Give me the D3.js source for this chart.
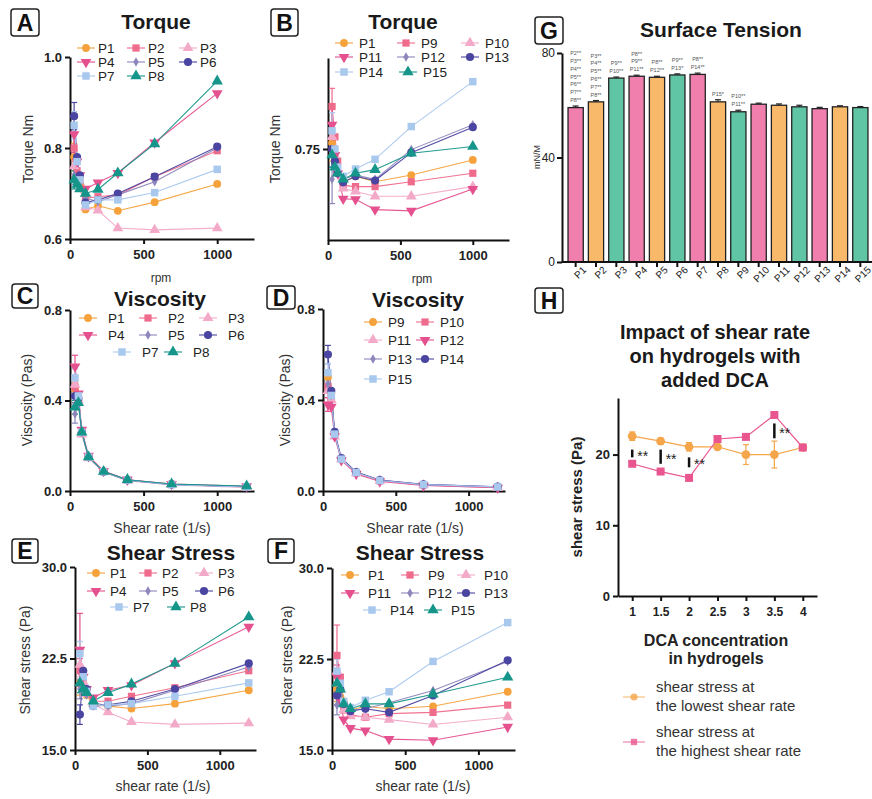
<!DOCTYPE html>
<html>
<head>
<meta charset="utf-8">
<script src="https://cdn.jsdelivr.net/npm/d3@7"></script>
<style>
body { margin: 0; background: #fff; }
svg { font-family: "Liberation Sans", Arial, Helvetica, sans-serif; }
</style>
</head>
<body>
<svg id="fig" width="872" height="799"></svg>
<script>
// ---------------------------------------------------------------- data
var rpm = [28, 48, 67, 105, 190, 325, 575, 1000];
var shearRate = [34, 57, 80, 126, 228, 390, 690, 1200];

var namesA = ["P1", "P2", "P3", "P4", "P5", "P6", "P7", "P8"];
var namesB = ["P1", "P9", "P10", "P11", "P12", "P13", "P14", "P15"];
var namesD = ["P9", "P10", "P11", "P12", "P13", "P14", "P15"];

// torque (Nm) vs rpm
var torqueA = [
   [0.78, 0.74, 0.72, 0.665, 0.673, 0.662, 0.681, 0.721],
   [0.80, 0.75, 0.73, 0.69, 0.693, 0.697, 0.737, 0.794],
   [0.76, 0.73, 0.71, 0.67, 0.663, 0.624, 0.620, 0.624],
   [0.83, 0.77, 0.74, 0.71, 0.724, 0.745, 0.812, 0.920],
   [0.74, 0.73, 0.72, 0.69, 0.682, 0.697, 0.726, 0.800],
   [0.87, 0.78, 0.74, 0.68, 0.686, 0.700, 0.737, 0.803],
   [0.85, 0.77, 0.73, 0.675, 0.686, 0.686, 0.702, 0.753],
   [0.73, 0.72, 0.71, 0.70, 0.709, 0.745, 0.809, 0.947]
];
var torqueAErr = [0.03, 0.03, 0.02, 0.04, 0.02, 0.03, 0.03, 0.02];

var torqueB = [
   [0.76, 0.73, 0.71, 0.695, 0.705, 0.696, 0.707, 0.732],
   [0.82, 0.77, 0.73, 0.69, 0.688, 0.688, 0.696, 0.710],
   [0.77, 0.74, 0.71, 0.685, 0.680, 0.672, 0.672, 0.688],
   [0.79, 0.74, 0.71, 0.668, 0.667, 0.650, 0.648, 0.684],
   [0.70, 0.72, 0.71, 0.70, 0.707, 0.700, 0.749, 0.790],
   [0.75, 0.73, 0.71, 0.695, 0.705, 0.698, 0.744, 0.786],
   [0.78, 0.75, 0.72, 0.705, 0.717, 0.733, 0.787, 0.861],
   [0.74, 0.72, 0.71, 0.70, 0.710, 0.716, 0.743, 0.754]
];
var torqueBErr = [0.03, 0.03, 0.02, 0.03, 0.04, 0.03, 0.03, 0.02];

// viscosity (Pas) vs shear rate
var viscC = [
   [0.45, 0.40, 0.26, 0.15, 0.085, 0.048, 0.029, 0.018],
   [0.46, 0.41, 0.26, 0.15, 0.087, 0.049, 0.030, 0.019],
   [0.47, 0.40, 0.25, 0.145, 0.084, 0.046, 0.027, 0.016],
   [0.55, 0.43, 0.27, 0.155, 0.088, 0.050, 0.031, 0.021],
   [0.34, 0.38, 0.26, 0.15, 0.085, 0.048, 0.029, 0.019],
   [0.42, 0.41, 0.26, 0.15, 0.085, 0.048, 0.029, 0.019],
   [0.50, 0.42, 0.26, 0.15, 0.085, 0.048, 0.028, 0.018],
   [0.37, 0.39, 0.26, 0.15, 0.086, 0.050, 0.031, 0.022]
];
var viscCErr = [0.03, 0.04, 0.03, 0.05, 0.04, 0.03, 0.04, 0.03];

var viscD = [
   [0.50, 0.43, 0.25, 0.14, 0.080, 0.046, 0.027, 0.017],
   [0.46, 0.41, 0.25, 0.14, 0.080, 0.045, 0.027, 0.016],
   [0.44, 0.40, 0.24, 0.14, 0.078, 0.045, 0.026, 0.015],
   [0.38, 0.37, 0.24, 0.135, 0.075, 0.042, 0.024, 0.014],
   [0.47, 0.42, 0.25, 0.14, 0.082, 0.047, 0.028, 0.018],
   [0.60, 0.44, 0.26, 0.145, 0.083, 0.048, 0.029, 0.019],
   [0.52, 0.42, 0.25, 0.14, 0.081, 0.046, 0.028, 0.018]
];
var viscDErr = [0.03, 0.03, 0.03, 0.03, 0.03, 0.04, 0.04];

// shear stress (Pa) vs shear rate
var stressE = [
   [20.5, 20.2, 19.5, 18.7, 18.6, 18.4, 18.8, 19.9],
   [21.5, 20.5, 19.8, 19.0, 19.0, 19.4, 20.1, 21.5],
   [22.0, 20.6, 19.6, 18.8, 18.1, 17.3, 17.1, 17.2],
   [23.2, 21.0, 20.0, 19.3, 19.9, 20.3, 22.1, 25.1],
   [20.0, 19.8, 19.5, 18.9, 18.6, 18.8, 19.9, 21.8],
   [17.9, 21.5, 20.0, 18.6, 18.7, 19.0, 20.0, 22.1],
   [22.9, 21.0, 19.8, 18.6, 18.7, 18.8, 19.4, 20.5],
   [20.5, 20.0, 19.7, 19.0, 19.7, 20.4, 22.1, 25.9]
];
var stressEErr = [1.0, 1.0, 1.0, 3.0, 0.8, 0.8, 1.0, 0.8];

var stressF = [
   [20.0, 19.4, 19.0, 18.3, 18.6, 18.4, 18.6, 19.8],
   [22.8, 21.0, 18.3, 17.9, 17.7, 18.0, 18.1, 18.7],
   [21.5, 20.0, 18.3, 17.8, 17.7, 17.5, 17.1, 17.7],
   [21.0, 19.0, 17.5, 16.8, 16.6, 15.9, 15.8, 16.9],
   [18.7, 19.5, 18.8, 18.3, 18.4, 18.9, 19.9, 22.3],
   [19.5, 20.0, 18.8, 18.2, 18.4, 18.1, 19.5, 22.4],
   [21.5, 20.5, 19.0, 18.5, 19.1, 19.8, 22.3, 25.5],
   [20.5, 20.0, 18.8, 18.4, 18.8, 18.8, 19.6, 21.0]
];
var stressFErr = [1.0, 2.5, 1.0, 1.0, 0.8, 0.8, 1.0, 0.8];

// surface tension (mN/M)
var stNames = ["P1", "P2", "P3", "P4", "P5", "P6", "P7", "P8", "P9", "P10", "P11", "P12", "P13", "P14", "P15"];
var stValues = [59.1, 61.3, 70.4, 71.1, 70.7, 71.6, 71.8, 61.3, 57.5, 60.4, 60.0, 59.4, 58.7, 59.4, 59.1];
var stErr = [0.6, 0.5, 0.4, 0.4, 0.4, 0.4, 0.5, 0.8, 0.6, 0.4, 0.5, 0.6, 0.5, 0.4, 0.4];
var stSig = [
   ["P2**", "P3**", "P4**", "P5**", "P6**", "P7**", "P8**"],
   ["P3**", "P4**", "P5**", "P6**", "P7**", "P8**"],
   ["P9**", "P10**"],
   ["P8**", "P9**", "P11**"],
   ["P8**", "P12**"],
   ["P9**", "P13*"],
   ["P8**", "P14**"],
   ["P15*"],
   ["P10**", "P11**"],
   [], [], [], [], [], []
];

// DCA panel
var dcaConc = [1, 1.5, 2, 2.5, 3, 3.5, 4];
var dcaLowest = [22.6, 21.9, 21.1, 21.1, 20.0, 20.0, 21.0];
var dcaLowestErr = [0.6, 0.4, 0.6, 0.3, 1.4, 1.9, 0.3];
var dcaHighest = [18.7, 17.6, 16.7, 22.2, 22.5, 25.6, 21.0];
var dcaHighestErr = [0.3, 0.3, 0.3, 0.3, 0.3, 0.4, 0.3];
var dcaSigX = [1, 1.5, 2, 3.5];
var dcaSigLo = [19.6, 18.7, 18.2, 22.3];
var dcaSigHi = [20.7, 20.7, 19.6, 24.4];

// ---------------------------------------------------------------- styles
var styles = [
   {color: "#f5a23c", shape: d3.symbolCircle, size: 48},
   {color: "#ef6b8c", shape: d3.symbolSquare, size: 52},
   {color: "#f3a9c8", shape: d3.symbolTriangle, size: 50},
   {color: "#e5508e", shape: d3.symbolTriangle, size: 50, rot: 180},
   {color: "#8d86bb", shape: d3.symbolDiamond, size: 26},
   {color: "#4a45a0", shape: d3.symbolCircle, size: 52},
   {color: "#a9c8ee", shape: d3.symbolSquare, size: 56},
   {color: "#16968a", shape: d3.symbolTriangle, size: 56}
];
var barColors = ["#f07fae", "#f9b96b", "#5fc5a5"];

var svg = d3.select("#fig");

function marker(sel, st) {
   return sel.append("path")
      .attr("d", d3.symbol().type(st.shape).size(st.size))
      .attr("fill", st.color);
}

function styleAxis(ax, fs, bold) {
   ax.select(".domain").attr("stroke", "#111").attr("stroke-width", 2);
   ax.selectAll(".tick line").attr("stroke", "#111").attr("stroke-width", 2);
   ax.selectAll(".tick text").attr("fill", "#222")
      .style("font-size", fs + "px").style("font-weight", bold ? "bold" : "normal")
      .style("font-family", "'Liberation Sans', Arial, sans-serif");
}

function panelLabel(letter, bx, by, bw, bh) {
   svg.append("rect").attr("x", bx).attr("y", by).attr("width", bw).attr("height", bh)
      .attr("rx", 3).attr("fill", "none").attr("stroke", "#222").attr("stroke-width", 1.5);
   svg.append("text").attr("x", bx + bw / 2).attr("y", by + bh / 2).attr("dy", "0.36em")
      .attr("text-anchor", "middle").style("font-size", "23px").style("font-weight", "bold")
      .attr("fill", "#111").text(letter);
}

function title(txt, cx, by, fs) {
   svg.append("text").attr("x", cx).attr("y", by).attr("text-anchor", "middle")
      .style("font-size", (fs || 21) + "px").style("font-weight", "bold").attr("fill", "#1a1a1a").text(txt);
}

// ---------------------------------------------------------------- line panels A-F
function linePanel(p) {
   var x = d3.scaleLinear().domain([0, 1250]).range(p.xRange);
   var y = d3.scaleLinear().domain(p.yDomain).range(p.yRange);
   var g = svg.append("g");

   var ax = g.append("g").attr("transform", "translate(0," + p.yRange[0] + ")")
      .call(d3.axisBottom(x).tickValues([0, 500, 1000]).tickFormat(d3.format("d"))
         .tickSize(5).tickSizeOuter(0).tickPadding(6));
   styleAxis(ax, 13, true);
   var ay = g.append("g").attr("transform", "translate(" + p.xRange[0] + ",0)")
      .call(d3.axisLeft(y).tickValues(p.yTicks).tickFormat(d3.format(p.yFormat)).tickSize(5).tickSizeOuter(0).tickPadding(3));
   styleAxis(ay, 13, true);

   // axis titles
   g.append("text").attr("transform", "translate(" + p.yTitle[0] + "," + p.yTitle[1] + ") rotate(-90)")
      .attr("text-anchor", "middle").attr("dy", "0.35em").style("font-size", "14px").attr("fill", "#333").text(p.yLabel);
   g.append("text").attr("x", p.xTitle[0]).attr("y", p.xTitle[1]).attr("text-anchor", "middle")
      .style("font-size", p.xTitleSize + "px").attr("fill", "#333").text(p.xLabel);

   var line = d3.line().x(function(d) { return x(d[0]); }).y(function(d) { return y(d[1]); });

   p.series.forEach(function(vals, i) {
      var st = styles[p.styleIdx[i]];
      var pts = vals.map(function(v, k) { return [p.xs[k], v]; });
      g.append("path").datum(pts).attr("d", line).attr("fill", "none")
         .attr("stroke", st.color).attr("stroke-width", 1.1).attr("opacity", 0.95);
      // error bar on first point
      var e = p.err[i], x0 = x(pts[0][0]);
      g.append("line").attr("x1", x0).attr("x2", x0)
         .attr("y1", y(pts[0][1] - e)).attr("y2", y(pts[0][1] + e))
         .attr("stroke", st.color).attr("stroke-width", 1.2);
      [pts[0][1] - e, pts[0][1] + e].forEach(function(v) {
         g.append("line").attr("x1", x0 - 3).attr("x2", x0 + 3).attr("y1", y(v)).attr("y2", y(v))
            .attr("stroke", st.color).attr("stroke-width", 1.2);
      });
   });
   p.series.forEach(function(vals, i) {
      var st = styles[p.styleIdx[i]];
      vals.forEach(function(v, k) {
         marker(g, st).attr("transform", "translate(" + x(p.xs[k]) + "," + y(v) + ")" + (st.rot ? " rotate(180)" : ""));
      });
   });

   // legend
   var L = p.legend;
   var nRows = Math.ceil(p.names.length / L.ncol);
   p.names.forEach(function(n, i) {
      var row = Math.floor(i / L.ncol), col = i % L.ncol;
      var st = styles[p.styleIdx[i]];
      var mx = (row === nRows - 1 && L.last) ? L.last[col] : L.cols[col];
      var my = L.rows[row];
      g.append("line").attr("x1", mx - 9).attr("x2", mx + 9).attr("y1", my).attr("y2", my)
         .attr("stroke", st.color).attr("stroke-width", 1.1);
      marker(g, st).attr("transform", "translate(" + mx + "," + my + ")" + (st.rot ? " rotate(180)" : ""));
      g.append("text").attr("x", mx + L.dx).attr("y", my).attr("dy", "0.36em")
         .style("font-size", "13.5px").attr("fill", "#222").text(n);
   });
}

var idx8 = [0, 1, 2, 3, 4, 5, 6, 7];

linePanel({
   xs: rpm, series: torqueA, err: torqueAErr, names: namesA, styleIdx: idx8,
   xRange: [70, 254], yDomain: [0.6, 1.0], yRange: [239, 57], yTicks: [0.6, 0.8, 1.0], yFormat: ".1f",
   yLabel: "Torque Nm", yTitle: [28, 149], xLabel: "rpm", xTitle: [161, 282], xTitleSize: 12,
   legend: {ncol: 3, cols: [86, 136, 188], last: [86, 136], rows: [48, 62, 76], dx: 12}
});
linePanel({
   xs: rpm, series: torqueB, err: torqueBErr, names: namesB, styleIdx: idx8,
   xRange: [328, 509], yDomain: [0.6, 0.9], yRange: [240, 58], yTicks: [0.75], yFormat: ".2f",
   yLabel: "Torque Nm", yTitle: [275, 149], xLabel: "rpm", xTitle: [422, 283], xTitleSize: 12,
   legend: {ncol: 3, cols: [344, 406, 470], last: [344, 408], rows: [43, 57, 72], dx: 15}
});
linePanel({
   xs: shearRate, series: viscC, err: viscCErr, names: namesA, styleIdx: idx8,
   xRange: [70, 254], yDomain: [0, 0.8], yRange: [491, 310], yTicks: [0, 0.4, 0.8], yFormat: ".1f",
   yLabel: "Viscosity (Pas)", yTitle: [27, 400], xLabel: "Shear rate (1/s)", xTitle: [162, 533], xTitleSize: 14,
   legend: {ncol: 3, cols: [88, 148, 208], last: [122, 173], rows: [318, 335, 352], dx: 20}
});
linePanel({
   xs: shearRate, series: viscD, err: viscDErr, names: namesD, styleIdx: [0, 1, 2, 3, 4, 5, 6],
   xRange: [323, 505], yDomain: [0, 0.8], yRange: [491, 309], yTicks: [0, 0.4, 0.8], yFormat: ".1f",
   yLabel: "Viscosity (Pas)", yTitle: [285, 400], xLabel: "Shear rate (1/s)", xTitle: [415, 533], xTitleSize: 14,
   legend: {ncol: 2, cols: [373, 425], rows: [322, 340, 359, 379], dx: 15}
});
linePanel({
   xs: shearRate, series: stressE, err: stressEErr, names: namesA, styleIdx: idx8,
   xRange: [75, 256], yDomain: [15, 30], yRange: [750, 567], yTicks: [15, 22.5, 30], yFormat: ".1f",
   yLabel: "Shear stress (Pa)", yTitle: [25, 660], xLabel: "shear rate (1/s)", xTitle: [163, 791], xTitleSize: 14,
   legend: {ncol: 3, cols: [96, 148, 204], last: [119, 176], rows: [573, 591, 607], dx: 14}
});
linePanel({
   xs: shearRate, series: stressF, err: stressFErr, names: namesB, styleIdx: idx8,
   xRange: [332, 515], yDomain: [15, 30], yRange: [750, 568], yTicks: [15, 22.5, 30], yFormat: ".1f",
   yLabel: "Shear stress (Pa)", yTitle: [287, 660], xLabel: "shear rate (1/s)", xTitle: [423, 791], xTitleSize: 14,
   legend: {ncol: 3, cols: [350, 410, 466], last: [372, 433], rows: [575, 593, 610], dx: 18}
});

title("Torque", 156, 29); panelLabel("A", 11, 9, 28, 27);
title("Torque", 403, 29); panelLabel("B", 271, 9, 27, 27);
title("Viscosity", 160, 306); panelLabel("C", 12, 284, 26, 24);
title("Viscosity", 418, 307); panelLabel("D", 267, 286, 28, 23);
title("Shear Stress", 171, 560); panelLabel("E", 12, 539, 26, 24);
title("Shear Stress", 420, 560); panelLabel("F", 268, 539, 26, 24);

// ---------------------------------------------------------------- G surface tension
(function() {
   var x = d3.scaleBand().domain(stNames).range([566, 870]).paddingInner(0.25).paddingOuter(0.1);
   var y = d3.scaleLinear().domain([0, 80]).range([262, 53]);
   var g = svg.append("g");

   g.selectAll("rect.bar").data(stValues).enter().append("rect")
      .attr("x", function(d, i) { return x(stNames[i]); })
      .attr("y", function(d) { return y(d); })
      .attr("width", x.bandwidth())
      .attr("height", function(d) { return y(0) - y(d); })
      .attr("fill", function(d, i) { return barColors[i % 3]; })
      .attr("stroke", "#222").attr("stroke-width", 1.3);

   stValues.forEach(function(v, i) {
      var cx = x(stNames[i]) + x.bandwidth() / 2;
      g.append("line").attr("x1", cx).attr("x2", cx).attr("y1", y(v)).attr("y2", y(v + stErr[i]))
         .attr("stroke", "#222").attr("stroke-width", 1.2);
      g.append("line").attr("x1", cx - 3).attr("x2", cx + 3).attr("y1", y(v + stErr[i])).attr("y2", y(v + stErr[i]))
         .attr("stroke", "#222").attr("stroke-width", 1.2);
      var lines = stSig[i];
      lines.forEach(function(t, k) {
         g.append("text").attr("x", cx).attr("y", y(v + stErr[i]) - 4 - (lines.length - 1 - k) * 7.8)
            .attr("text-anchor", "middle").style("font-size", "5.5px").attr("fill", "#555").text(t);
      });
   });

   var ax = g.append("g").attr("transform", "translate(0,262)")
      .call(d3.axisBottom(x).tickSize(5).tickSizeOuter(0));
   ax.select(".domain").attr("d", "M562,0H872");
   styleAxis(ax, 10, false);
   ax.selectAll(".tick text").attr("text-anchor", "end").attr("dx", "0.2em").attr("dy", "0.6em")
      .attr("transform", "rotate(-45)");
   var ay = g.append("g").attr("transform", "translate(562,0)")
      .call(d3.axisLeft(y).tickValues([0, 40, 80]).tickSize(5).tickSizeOuter(0).tickPadding(2));
   styleAxis(ay, 12, false);
   g.append("text").attr("transform", "translate(537,157) rotate(-90)").attr("text-anchor", "middle")
      .attr("dy", "0.35em").style("font-size", "9px").attr("fill", "#333").text("mN/M");
})();
title("Surface Tension", 721, 37); panelLabel("G", 535, 17, 28, 27);

// ---------------------------------------------------------------- H DCA
(function() {
   var x = d3.scaleLinear().domain([0.75, 4.25]).range([618, 817]);
   var y = d3.scaleLinear().domain([0, 28]).range([596, 398]);
   var g = svg.append("g");
   var orange = "#f5a54a", pink = "#e9558f";

   var ax = g.append("g").attr("transform", "translate(0,596)")
      .call(d3.axisBottom(x).tickValues(dcaConc).tickFormat(d3.format("")).tickSize(5).tickSizeOuter(0).tickPadding(6));
   styleAxis(ax, 12, true);
   var ay = g.append("g").attr("transform", "translate(618,0)")
      .call(d3.axisLeft(y).tickValues([0, 10, 20]).tickSize(5).tickSizeOuter(0).tickPadding(3));
   styleAxis(ay, 13, true);

   g.append("text").attr("transform", "translate(577,497) rotate(-90)").attr("text-anchor", "middle")
      .attr("dy", "0.35em").style("font-size", "15px").style("font-weight", "bold").attr("fill", "#222")
      .text("shear stress (Pa)");
   g.append("text").attr("x", 716).attr("y", 646).attr("text-anchor", "middle")
      .style("font-size", "16px").style("font-weight", "bold").attr("fill", "#222").text("DCA concentration");
   g.append("text").attr("x", 716).attr("y", 664).attr("text-anchor", "middle")
      .style("font-size", "16px").style("font-weight", "bold").attr("fill", "#222").text("in hydrogels");

   var line = d3.line().x(function(d) { return x(d[0]); }).y(function(d) { return y(d[1]); });
   [[dcaLowest, dcaLowestErr, orange, d3.symbolCircle, 60], [dcaHighest, dcaHighestErr, pink, d3.symbolSquare, 64]].forEach(function(s) {
      var pts = dcaConc.map(function(c, k) { return [c, s[0][k]]; });
      g.append("path").datum(pts).attr("d", line).attr("fill", "none").attr("stroke", s[2]).attr("stroke-width", 1.2);
      pts.forEach(function(p, k) {
         var e = s[1][k], cx = x(p[0]);
         g.append("line").attr("x1", cx).attr("x2", cx).attr("y1", y(p[1] - e)).attr("y2", y(p[1] + e))
            .attr("stroke", s[2]).attr("stroke-width", 1.2);
         [p[1] - e, p[1] + e].forEach(function(v) {
            g.append("line").attr("x1", cx - 3).attr("x2", cx + 3).attr("y1", y(v)).attr("y2", y(v))
               .attr("stroke", s[2]).attr("stroke-width", 1.2);
         });
         g.append("path").attr("d", d3.symbol().type(s[3]).size(s[4])).attr("fill", s[2])
            .attr("transform", "translate(" + cx + "," + y(p[1]) + ")");
      });
   });

   dcaSigX.forEach(function(c, k) {
      g.append("line").attr("x1", x(c)).attr("x2", x(c)).attr("y1", y(dcaSigLo[k])).attr("y2", y(dcaSigHi[k]))
         .attr("stroke", "#111").attr("stroke-width", 2.5);
      g.append("text").attr("x", x(c) + 5).attr("y", y((dcaSigLo[k] + dcaSigHi[k]) / 2) + 7)
         .style("font-size", "14px").attr("fill", "#222").text("**");
   });

   // legend
   var items = [[orange, d3.symbolCircle, 697, "shear stress at", "the lowest shear rate"],
                [pink, d3.symbolSquare, 742, "shear stress at", "the highest shear rate"]];
   items.forEach(function(it) {
      g.append("line").attr("x1", 623).attr("x2", 645).attr("y1", it[2]).attr("y2", it[2])
         .attr("stroke", it[0]).attr("stroke-width", 1.2).attr("opacity", 0.7);
      g.append("path").attr("d", d3.symbol().type(it[1]).size(40)).attr("fill", it[0]).attr("opacity", 0.8)
         .attr("transform", "translate(634," + it[2] + ")");
      g.append("text").attr("x", 656).attr("y", it[2] - 5).style("font-size", "15px").attr("fill", "#333").text(it[3]);
      g.append("text").attr("x", 656).attr("y", it[2] + 14).style("font-size", "15px").attr("fill", "#333").text(it[4]);
   });
})();
svg.append("text").attr("x", 715).attr("y", 339).attr("text-anchor", "middle").style("font-size", "20px")
   .style("font-weight", "bold").attr("fill", "#1a1a1a").text("Impact of shear rate");
svg.append("text").attr("x", 715).attr("y", 363).attr("text-anchor", "middle").style("font-size", "20px")
   .style("font-weight", "bold").attr("fill", "#1a1a1a").text("on hydrogels with");
svg.append("text").attr("x", 715).attr("y", 387).attr("text-anchor", "middle").style("font-size", "20px")
   .style("font-weight", "bold").attr("fill", "#1a1a1a").text("added DCA");
panelLabel("H", 535, 288, 28, 25);
</script>
</body>
</html>
